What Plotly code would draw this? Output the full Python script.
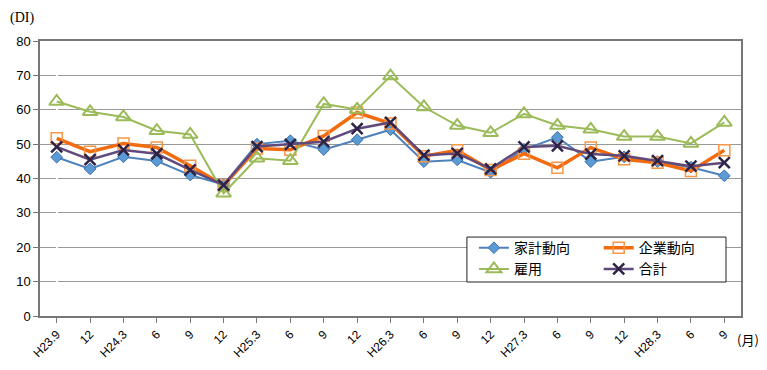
import plotly.graph_objects as go

categories = ["H23.9", "12", "H24.3", "6", "9", "12", "H25.3", "6", "9", "12",
              "H26.3", "6", "9", "12", "H27.3", "6", "9", "12", "H28.3", "6", "9"]
x_idx = list(range(len(categories)))

kakei = [46.2, 42.8, 46.3, 45.1, 41.0, 38.2, 50.0, 51.0, 48.4, 51.3, 54.2,
         44.9, 45.4, 41.8, 48.5, 52.0, 44.9, 46.3, 44.9, 43.3, 40.8]
kigyo = [51.7, 47.8, 50.2, 49.0, 43.7, 38.0, 48.7, 48.4, 52.4, 59.2, 56.0,
         46.5, 48.2, 42.5, 47.2, 43.1, 49.0, 45.6, 44.6, 42.2, 48.2]
koyo = [62.4, 59.4, 57.9, 53.9, 52.8, 35.7, 45.9, 45.2, 61.7, 60.1, 69.8,
        60.8, 55.4, 53.3, 58.8, 55.4, 54.3, 52.2, 52.2, 50.2, 56.3]
gokei = [49.2, 45.5, 48.3, 47.2, 42.5, 38.1, 49.3, 49.9, 50.7, 54.5, 56.3,
         46.8, 47.3, 42.8, 49.2, 49.5, 47.1, 46.6, 45.2, 43.6, 44.6]

series_names = ["家計動向", "企業動向", "雇用", "合計"]

fig = go.Figure()
fig.add_trace(go.Scatter(
    x=x_idx, y=kakei, name=series_names[0], mode="lines+markers", legend="legend",
    line=dict(color="#4F81BD", width=2),
    marker=dict(symbol="diamond", size=9, color="#5B9BD5",
                line=dict(color="#3D6FA8", width=1))))
fig.add_trace(go.Scatter(
    x=x_idx, y=kigyo, name=series_names[1], mode="lines+markers", legend="legend2",
    line=dict(color="#F26B0F", width=3.5),
    marker=dict(symbol="square-open", size=11, color="#F79646",
                line=dict(color="#F79646", width=1.5))))
fig.add_trace(go.Scatter(
    x=x_idx, y=koyo, name=series_names[2], mode="lines+markers", legend="legend",
    line=dict(color="#9BBB59", width=2),
    marker=dict(symbol="triangle-up-open", size=13, color="#9BBB59",
                line=dict(color="#9BBB59", width=2))))
fig.add_trace(go.Scatter(
    x=x_idx, y=gokei, name=series_names[3], mode="lines+markers", legend="legend2",
    line=dict(color="#604A7B", width=2.5),
    marker=dict(symbol="x-thin-open", size=11, color="#2E2347",
                line=dict(color="#2E2347", width=2.5))))

legend_font = dict(family="Noto Sans CJK JP", size=14, color="black")
common_legend = dict(orientation="v", yanchor="top", xanchor="left",
                     bgcolor="rgba(0,0,0,0)", borderwidth=0,
                     font=legend_font, tracegroupgap=0)

fig.update_layout(
    width=759, height=362,
    margin=dict(l=32, r=26, t=33, b=54),
    paper_bgcolor="white", plot_bgcolor="white",
    font=dict(family="Liberation Sans, Arial, sans-serif", size=12, color="black"),
    showlegend=True,
    legend=dict(x=0.619, y=0.305, **common_legend),
    legend2=dict(x=0.797, y=0.305, **common_legend),
    xaxis=dict(
        tickmode="array", tickvals=x_idx, ticktext=categories,
        range=[-0.5, len(categories) - 0.5], automargin=False,
        tickangle=-45, showgrid=False,
        showline=True, linecolor="#777", linewidth=1.5, mirror=True,
        ticks="outside", tickson="boundaries", ticklen=5, tickcolor="#777",
        tickfont=dict(size=12)),
    yaxis=dict(
        range=[0, 80], dtick=10, showgrid=True, gridcolor="#999", gridwidth=1,
        automargin=False,
        showline=True, linecolor="#777", linewidth=1.5, mirror=True,
        ticks="outside", ticklen=5, tickcolor="#777", zeroline=False,
        tickfont=dict(size=13)),
    shapes=[
        dict(type="rect", xref="paper", yref="paper",
             x0=0.609, x1=0.9786, y0=0.1236, y1=0.287,
             fillcolor="white", line=dict(color="#222", width=1), layer="above"),
    ],
    annotations=[
        dict(text="(DI)", xref="paper", yref="paper", x=-0.045, y=1.084,
             xanchor="left", yanchor="middle", showarrow=False,
             font=dict(family="Liberation Serif, DejaVu Serif, serif", size=14)),
        dict(text="(月)", xref="paper", yref="paper", x=1.028, y=-0.087,
             xanchor="right", yanchor="middle", showarrow=False,
             font=dict(family="Noto Sans CJK JP", size=13)),
    ],
)

fig.write_html("out.html")
